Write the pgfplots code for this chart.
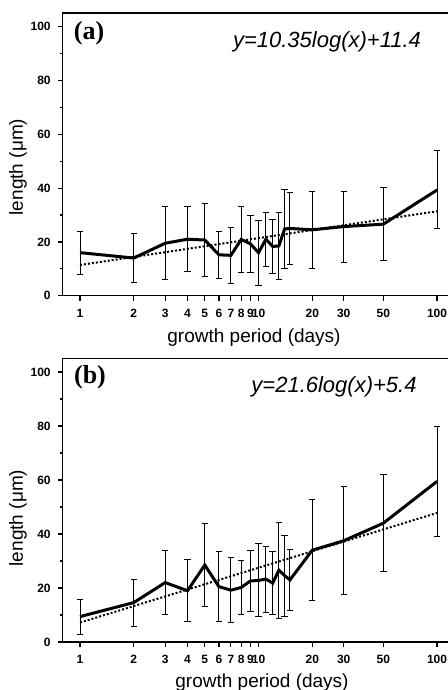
\documentclass[border=0pt]{standalone}
\usepackage{fontspec}
\setmainfont{Liberation Sans}
\newfontfamily\timesfont{Liberation Serif}
\usepackage{pgfplots}
\pgfplotsset{compat=1.18}
\usepackage{pgfplotstable}

% panel (a): mean length and spread
\pgfplotstableread{
x   y     e
1   16.0  8.0
2   14.0  9.0
3   19.5  13.5
4   21.0  12.1
5   20.7  13.6
6   15.2  8.7
7   15.0  10.3
8   20.9  12.3
9   19.3  10.6
10  16.0  12.1
11  21.0  10.0
12  18.3  10.2
13  18.5  12.5
14  24.8  14.6
15  25.0  13.5
20  24.5  14.3
30  25.7  13.2
50  26.6  13.5
100 39.3  14.5
}\dataA

% panel (b)
\pgfplotstableread{
x   y     e
1   9.4   6.5
2   14.6  8.7
3   22.0  12.0
4   19.0  11.5
5   28.5  15.5
6   20.5  13.0
7   19.2  12.0
8   20.2  10.0
9   22.6  11.3
10  22.8  13.5
11  23.3  12.2
12  21.8  11.8
13  26.6  17.8
14  24.6  15.0
15  23.0  11.3
20  34.0  18.6
30  37.5  20.0
50  44.0  18.0
100 59.5  20.3
}\dataB

\begin{document}
\begin{tikzpicture}
\path[use as bounding box] (0,0) rectangle (224pt,345pt);

\begin{axis}[
    xmode=log,
    scale only axis, width=193.6pt, height=141.2pt,
    at={(31.35pt,197.15pt)}, anchor=south west,
    xmin=0.8, xmax=118, ymin=0, ymax=105,
    xtick={1,2,3,4,5,6,7,8,9,10,20,30,50,100},
    xticklabels={1,2,3,4,5,6,7,8,9,10,20,30,50,100},
    ytick={0,20,40,60,80,100},
    yticklabels={0,20,40,60,80,100},
    minor ytick={10,30,50,70,90},
    xtick pos=bottom, ytick pos=left, tick align=outside,
    major tick length=2.5pt, minor tick length=1.5pt,
    tick label style={font=\fontsize{6}{7}\selectfont\bfseries},
    xticklabel style={yshift=-0.5pt},
    axis line style={line width=0.8pt},
    tick style={black, line width=0.6pt},
]
\addplot[black, densely dotted, line width=1pt] coordinates {(1,11.4) (100,31.4)};
\addplot[black, line width=1.5pt, mark=none,
    error bars/.cd, y dir=both, y explicit,
    error bar style={line width=0.5pt},
    error mark options={rotate=90, mark size=1.6pt, line width=0.5pt}]
  table[x=x, y=y, y error=e] {\dataA};
\end{axis}

\begin{axis}[
    xmode=log,
    scale only axis, width=193.6pt, height=141.75pt,
    at={(31.35pt,24pt)}, anchor=south west,
    xmin=0.8, xmax=118, ymin=0, ymax=105,
    xtick={1,2,3,4,5,6,7,8,9,10,20,30,50,100},
    xticklabels={1,2,3,4,5,6,7,8,9,10,20,30,50,100},
    ytick={0,20,40,60,80,100},
    yticklabels={0,20,40,60,80,100},
    minor ytick={10,30,50,70,90},
    xtick pos=bottom, ytick pos=left, tick align=outside,
    major tick length=2.5pt, minor tick length=1.5pt,
    tick label style={font=\fontsize{6}{7}\selectfont\bfseries},
    xticklabel style={yshift=-0.5pt},
    axis line style={line width=0.8pt},
    tick style={black, line width=0.6pt},
]
\addplot[black, densely dotted, line width=1pt] coordinates {(1,7.2) (100,47.8)};
\addplot[black, line width=1.5pt, mark=none,
    error bars/.cd, y dir=both, y explicit,
    error bar style={line width=0.5pt},
    error mark options={rotate=90, mark size=1.6pt, line width=0.5pt}]
  table[x=x, y=y, y error=e] {\dataB};
\end{axis}

% panel letters and fit equations
\node[font=\timesfont\bfseries\fontsize{13}{15}\selectfont] at (44.5pt,328.5pt) {(a)};
\node[font=\timesfont\bfseries\fontsize{13}{15}\selectfont] at (45pt,156.5pt) {(b)};
\node[font=\itshape\fontsize{11}{13}\selectfont] at (163.5pt,324.2pt) {y=10.35log(x)+11.4};
\node[font=\itshape\fontsize{11}{13}\selectfont] at (167pt,151.7pt) {y=21.6log(x)+5.4};

% axis titles
\node[font=\fontsize{9.5}{11}\selectfont, anchor=base] at (127pt,173.5pt) {growth period (days)};
\node[font=\fontsize{9.5}{11}\selectfont, anchor=base] at (131pt,1.5pt) {growth period (days)};
\node[font=\fontsize{9.5}{11}\selectfont, rotate=90] at (9pt,261.5pt) {length (μm)};
\node[font=\fontsize{9.5}{11}\selectfont, rotate=90] at (9pt,86pt) {length (μm)};
\end{tikzpicture}
\end{document}
